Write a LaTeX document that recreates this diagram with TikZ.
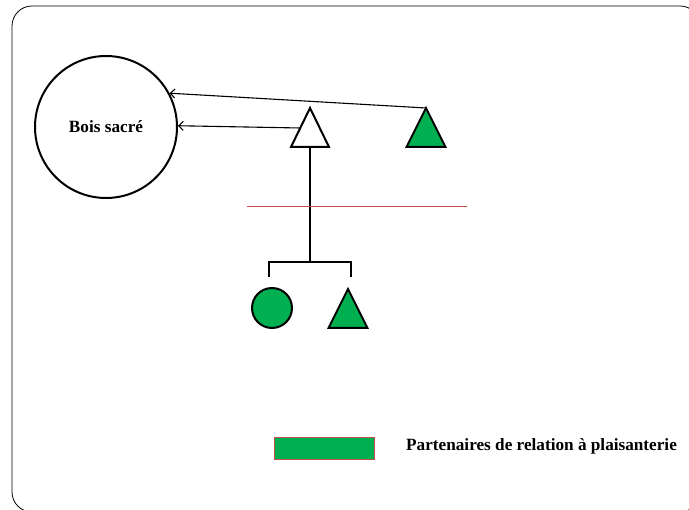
\documentclass[tikz,border=0pt]{standalone}
\usepackage{fontspec}
\setmainfont{Liberation Serif}
\usepackage{tikz}
\usetikzlibrary{positioning,arrows.meta}
\definecolor{kingreen}{RGB}{0,176,80}
\definecolor{brickred}{RGB}{192,80,77}

\begin{document}
\begin{tikzpicture}[x=1pt,y=-1pt,
		kinshape/.style={line width=2pt,line join=miter},
		link/.style={line width=1.1pt,-{Straight Barb[length=4.5pt,width=9pt]}},
		kintext/.style={font=\fontsize{17.2}{19}\selectfont\bfseries}]
			\useasboundingbox (0,0) rectangle (689,510);
			\draw[line width=0.8pt,rounded corners=20] (12,6) rectangle (700,512);

			\coordinate (ego) at (310,128);
			\coordinate (uncle) at (426,128);
			\coordinate (son) at (348,309);
			\node[draw,circle,kinshape,minimum size=142,inner sep=0pt,kintext] (bois) at (106,127) {Bois sacré};
			\node[draw,circle,kinshape,fill=kingreen,minimum size=40,inner sep=0pt] (daughter) at (272,308) {};

			% triangles
			\draw[kinshape,fill=white] ([shift={(0,-20)}]ego)--([shift={(19,19)}]ego)--([shift={(-19,19)}]ego)--cycle;
			\draw[kinshape,fill=kingreen] ([shift={(0,-20)}]uncle)--([shift={(19.5,19)}]uncle)--([shift={(-19.5,19)}]uncle)--cycle;
			\draw[kinshape,fill=kingreen] ([shift={(0,-20)}]son)--([shift={(19.5,19)}]son)--([shift={(-19.5,19)}]son)--cycle;

			% arrows to the sacred grove
			\draw[link] ([shift={(0,-20)}]uncle) -- (bois.28);
			\draw[link] ([shift={(-10,0)}]ego) -- (bois.1);

			% descent
			\draw[line width=1.8pt] ([shift={(0,19)}]ego) -- ([shift={(0,134)}]ego);
			\draw[line width=1.8pt] ([shift={(-41,149)}]ego) -- ([shift={(-41,134)}]ego) -- ([shift={(41,134)}]ego) -- ([shift={(41,149)}]ego);
			\draw[brickred,line width=1pt] (247,207) -- (467,207);

			% legend
			\node[draw=brickred,fill=kingreen,line width=0.6pt,minimum width=100,minimum height=22,inner sep=0pt] (key) at (324,448) {};
			\node[kintext,anchor=west,inner sep=0pt] (keytext) at (406,446) {Partenaires de relation à plaisanterie};
		\end{tikzpicture}
\end{document}
